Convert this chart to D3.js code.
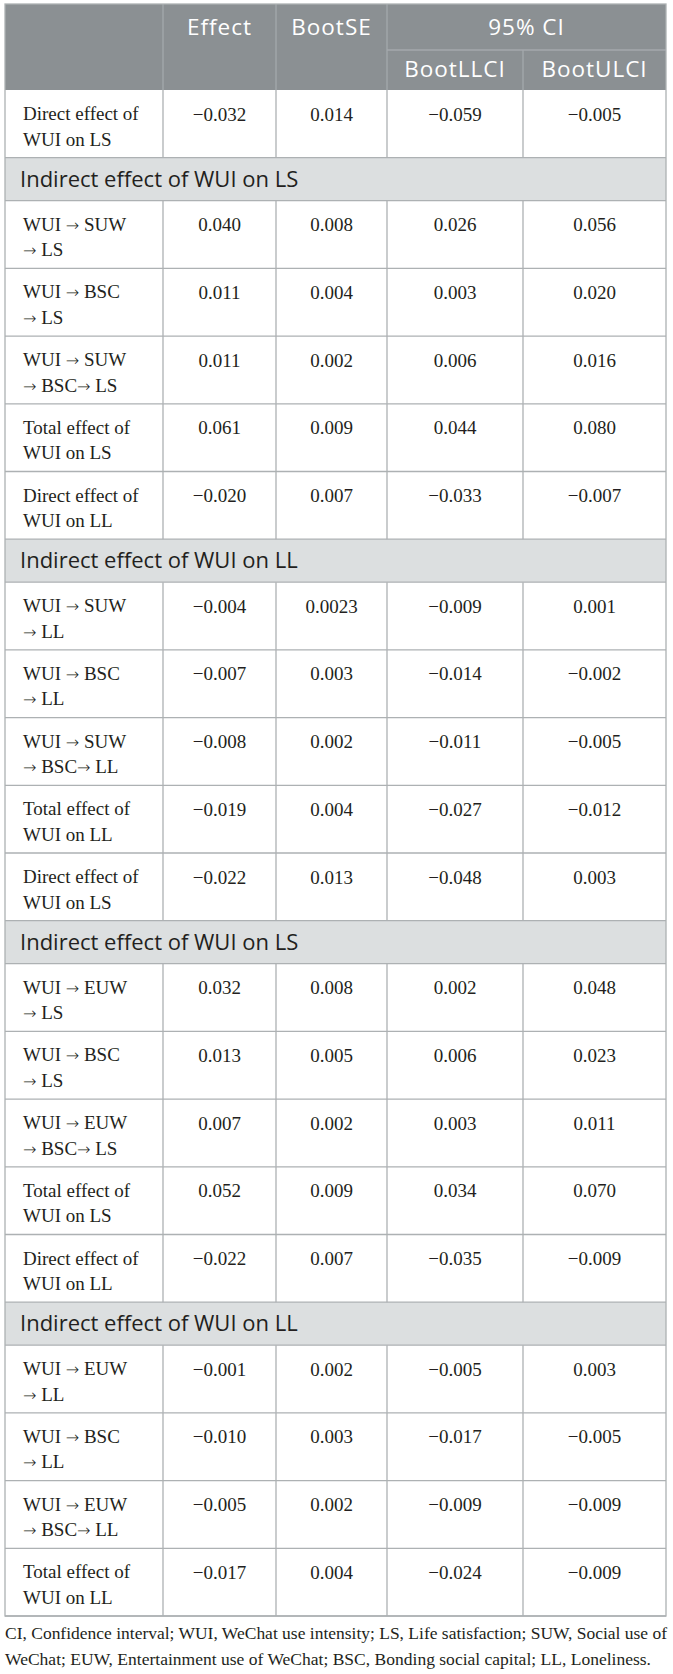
<!DOCTYPE html>
<html>
<head>
<meta charset="utf-8">
<script src="https://cdn.jsdelivr.net/npm/d3@7"></script>
<style>
  body { margin: 0; background: #fff; }
</style>
</head>
<body>
<script>
// column headers
var topHeaders = ["", "Effect", "BootSE", "95% CI"];
var subHeaders = ["BootLLCI", "BootULCI"];

// "d" = data row, "s" = section band
var rowTypes = ["d","s","d","d","d","d",
                "d","s","d","d","d","d",
                "d","s","d","d","d","d",
                "d","s","d","d","d","d"];

var rowLabels = [
    ["Direct effect of", "WUI on LS"],
    ["Indirect effect of WUI on LS"],
    ["WUI \u2192 SUW", "\u2192 LS"],
    ["WUI \u2192 BSC", "\u2192 LS"],
    ["WUI \u2192 SUW", "\u2192 BSC\u2192 LS"],
    ["Total effect of", "WUI on LS"],
    ["Direct effect of", "WUI on LL"],
    ["Indirect effect of WUI on LL"],
    ["WUI \u2192 SUW", "\u2192 LL"],
    ["WUI \u2192 BSC", "\u2192 LL"],
    ["WUI \u2192 SUW", "\u2192 BSC\u2192 LL"],
    ["Total effect of", "WUI on LL"],
    ["Direct effect of", "WUI on LS"],
    ["Indirect effect of WUI on LS"],
    ["WUI \u2192 EUW", "\u2192 LS"],
    ["WUI \u2192 BSC", "\u2192 LS"],
    ["WUI \u2192 EUW", "\u2192 BSC\u2192 LS"],
    ["Total effect of", "WUI on LS"],
    ["Direct effect of", "WUI on LL"],
    ["Indirect effect of WUI on LL"],
    ["WUI \u2192 EUW", "\u2192 LL"],
    ["WUI \u2192 BSC", "\u2192 LL"],
    ["WUI \u2192 EUW", "\u2192 BSC\u2192 LL"],
    ["Total effect of", "WUI on LL"]
];

var effect   = ["\u22120.032", null, "0.040", "0.011", "0.011", "0.061",
                "\u22120.020", null, "\u22120.004", "\u22120.007", "\u22120.008", "\u22120.019",
                "\u22120.022", null, "0.032", "0.013", "0.007", "0.052",
                "\u22120.022", null, "\u22120.001", "\u22120.010", "\u22120.005", "\u22120.017"];
var bootSE   = ["0.014", null, "0.008", "0.004", "0.002", "0.009",
                "0.007", null, "0.0023", "0.003", "0.002", "0.004",
                "0.013", null, "0.008", "0.005", "0.002", "0.009",
                "0.007", null, "0.002", "0.003", "0.002", "0.004"];
var bootLLCI = ["\u22120.059", null, "0.026", "0.003", "0.006", "0.044",
                "\u22120.033", null, "\u22120.009", "\u22120.014", "\u22120.011", "\u22120.027",
                "\u22120.048", null, "0.002", "0.006", "0.003", "0.034",
                "\u22120.035", null, "\u22120.005", "\u22120.017", "\u22120.009", "\u22120.024"];
var bootULCI = ["\u22120.005", null, "0.056", "0.020", "0.016", "0.080",
                "\u22120.007", null, "0.001", "\u22120.002", "\u22120.005", "\u22120.012",
                "0.003", null, "0.048", "0.023", "0.011", "0.070",
                "\u22120.009", null, "0.003", "\u22120.005", "\u22120.009", "\u22120.009"];

var footnote = [
    "CI, Confidence interval; WUI, WeChat use intensity; LS, Life satisfaction; SUW, Social use of",
    "WeChat; EUW, Entertainment use of WeChat; BSC, Bonding social capital; LL, Loneliness."
];

function init() {
    var w = 673;
    var h = 1674;
    var headTop = 4, headMid = 50, headBottom = 90, tableBottom = 1616;
    var sectionUnits = 43 / 67.8;

    var svg = d3.select("body")
                .append("svg")
                .attr("width", w)
                .attr("height", h);

    // x: column index -> column edge
    var xScale = d3.scaleLinear()
                   .domain([0, 1, 2, 3, 4, 5])
                   .range([5, 163, 276, 387, 523, 666]);

    // y: cumulative row units -> pixels
    var units = rowTypes.map(function (t) { return t === "s" ? sectionUnits : 1; });
    var starts = [0].concat(Array.from(d3.cumsum(units)));
    var yScale = d3.scaleLinear()
                   .domain([0, d3.sum(units)])
                   .range([headBottom, tableBottom]);

    var lineColor = "#adb1b3";
    var textColor = "#231f20";
    var serif = "'Liberation Serif', 'Times New Roman', serif";
    var sans = "'Open Sans', 'Noto Sans', sans-serif";

    // header background
    svg.append("rect")
        .attr("x", xScale(0)).attr("y", headTop)
        .attr("width", xScale(5) - xScale(0)).attr("height", headBottom - headTop)
        .attr("fill", "#8b9093");

    var rows = rowTypes.map(function (t, i) {
        return { i: i, type: t, y0: yScale(starts[i]), y1: yScale(starts[i + 1]) };
    });
    var dataRows = rows.filter(function (r) { return r.type === "d"; });
    var sectionRows = rows.filter(function (r) { return r.type === "s"; });

    // section bands
    svg.selectAll("rect.band")
        .data(sectionRows)
        .enter()
        .append("rect")
        .attr("class", "band")
        .attr("x", xScale(0))
        .attr("y", function (r) { return r.y0; })
        .attr("width", xScale(5) - xScale(0))
        .attr("height", function (r) { return r.y1 - r.y0; })
        .attr("fill", "#dcdfe0");

    // horizontal lines
    svg.selectAll("line.h")
        .data(rows.map(function (r) { return r.y1; }))
        .enter()
        .append("line")
        .attr("x1", xScale(0)).attr("x2", xScale(5))
        .attr("y1", function (d) { return d; }).attr("y2", function (d) { return d; })
        .attr("stroke", lineColor).attr("stroke-width", 1.3);

    // vertical lines in data rows
    dataRows.forEach(function (r) {
        svg.selectAll(null)
            .data([1, 2, 3, 4])
            .enter()
            .append("line")
            .attr("x1", function (c) { return xScale(c); })
            .attr("x2", function (c) { return xScale(c); })
            .attr("y1", r.y0).attr("y2", r.y1)
            .attr("stroke", lineColor).attr("stroke-width", 1.3);
    });

    // header separators
    var hdrLine = "#a4a9ac";
    svg.selectAll(null)
        .data([1, 2, 3])
        .enter()
        .append("line")
        .attr("x1", function (c) { return xScale(c); })
        .attr("x2", function (c) { return xScale(c); })
        .attr("y1", headTop).attr("y2", headBottom)
        .attr("stroke", hdrLine).attr("stroke-width", 1.3);
    svg.append("line")
        .attr("x1", xScale(4)).attr("x2", xScale(4))
        .attr("y1", headMid).attr("y2", headBottom)
        .attr("stroke", hdrLine).attr("stroke-width", 1.3);
    svg.append("line")
        .attr("x1", xScale(3)).attr("x2", xScale(5))
        .attr("y1", headMid).attr("y2", headMid)
        .attr("stroke", hdrLine).attr("stroke-width", 1.3);

    // header text
    var topPos = [null, [1, 2], [2, 3], [3, 5]];
    svg.selectAll("text.top")
        .data(topHeaders.map(function (t, i) { return { t: t, p: topPos[i] }; })
                        .filter(function (d) { return d.t; }))
        .enter()
        .append("text")
        .attr("x", function (d) { return (xScale(d.p[0]) + xScale(d.p[1])) / 2; })
        .attr("y", 35)
        .attr("text-anchor", "middle")
        .attr("font-family", sans).attr("font-size", "22.5px")
        .attr("letter-spacing", "1px")
        .attr("fill", "#fff")
        .text(function (d) { return d.t; });

    svg.selectAll("text.sub")
        .data(subHeaders)
        .enter()
        .append("text")
        .attr("x", function (d, i) { return (xScale(3 + i) + xScale(4 + i)) / 2; })
        .attr("y", 77)
        .attr("text-anchor", "middle")
        .attr("font-family", sans).attr("font-size", "22.5px")
        .attr("letter-spacing", "1px")
        .attr("fill", "#fff")
        .text(function (d) { return d; });

    // outer border
    svg.append("rect")
        .attr("x", xScale(0)).attr("y", headTop)
        .attr("width", xScale(5) - xScale(0)).attr("height", tableBottom - headTop)
        .attr("fill", "none")
        .attr("stroke", lineColor).attr("stroke-width", 1.3);

    // section titles
    svg.selectAll("text.section")
        .data(sectionRows)
        .enter()
        .append("text")
        .attr("x", xScale(0) + 15)
        .attr("y", function (r) { return r.y0 + 29; })
        .attr("font-family", sans).attr("font-size", "22px")
        .attr("fill", textColor)
        .text(function (r) { return rowLabels[r.i][0]; });

    // row labels, one text per line, arrows drawn a bit longer
    dataRows.forEach(function (r) {
        rowLabels[r.i].forEach(function (line, k) {
            var t = svg.append("text")
                .attr("x", xScale(0) + 18)
                .attr("y", r.y0 + 30 + k * 25.5)
                .attr("font-family", serif).attr("font-size", "19px")
                .attr("fill", textColor);
            line.split("\u2192").forEach(function (seg, j) {
                if (j > 0) {
                    t.append("tspan")
                        .attr("font-family", "'DejaVu Sans', sans-serif")
                        .attr("font-size", "16px")
                        .attr("font-weight", "200")
                        .text("\u2192");
                }
                if (seg) t.append("tspan").text(seg);
            });
        });
    });

    // values
    var series = [effect, bootSE, bootLLCI, bootULCI];
    series.forEach(function (vals, c) {
        svg.selectAll(null)
            .data(dataRows)
            .enter()
            .append("text")
            .attr("x", (xScale(c + 1) + xScale(c + 2)) / 2)
            .attr("y", function (r) { return r.y0 + 30.5; })
            .attr("text-anchor", "middle")
            .attr("font-family", serif).attr("font-size", "19px")
            .attr("fill", textColor)
            .text(function (r) { return vals[r.i]; });
    });

    // footnote
    var footWidths = [662, 646];
    svg.selectAll("text.foot")
        .data(footnote)
        .enter()
        .append("text")
        .attr("x", 5)
        .attr("y", function (d, i) { return 1639 + i * 26; })
        .attr("font-family", serif).attr("font-size", "17.5px")
        .attr("textLength", function (d, i) { return footWidths[i]; })
        .attr("lengthAdjust", "spacingAndGlyphs")
        .attr("fill", textColor)
        .text(function (d) { return d; });
}

window.onload = init;
</script>
</body>
</html>
